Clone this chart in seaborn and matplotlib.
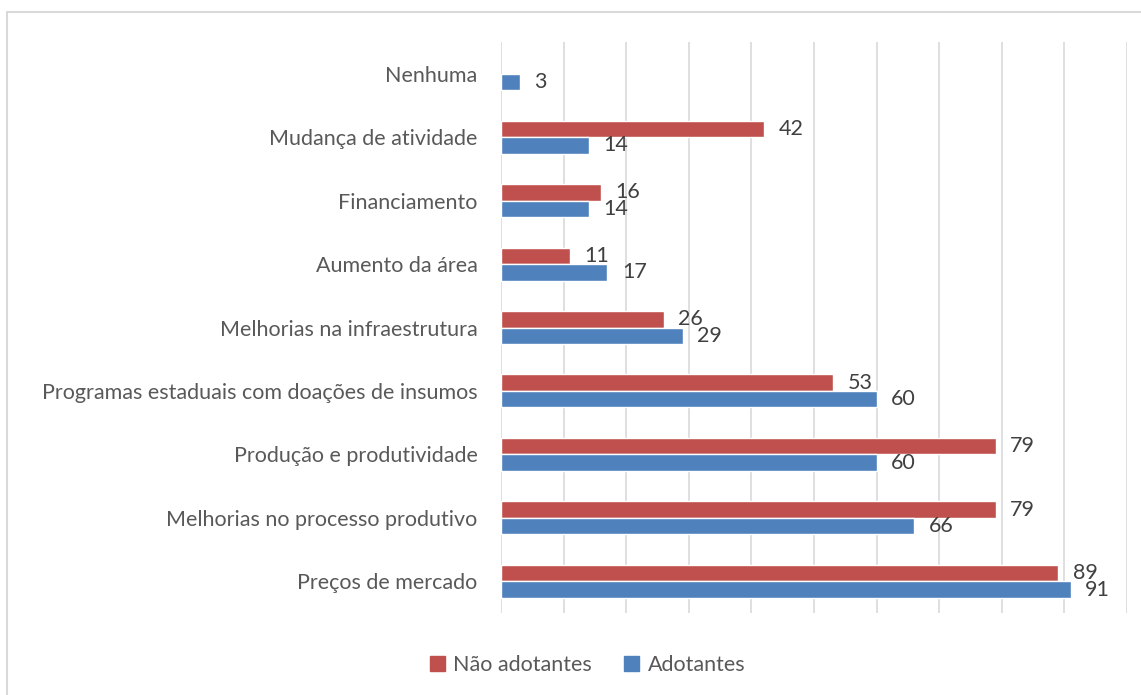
import numpy as np
import pandas as pd
import matplotlib
matplotlib.use('Agg')
import matplotlib.pyplot as plt
import matplotlib.patches as mpatches
import seaborn as sns

# ── Data ────────────────────────────────────────────────────
categories = ['Nenhuma', 'Mudança de atividade', 'Financiamento', 'Aumento da área',
              'Melhorias na infraestrutura', 'Programas estaduais com doações de insumos',
              'Produção e produtividade', 'Melhorias no processo produtivo',
              'Preços de mercado']
nao_adotantes = [np.nan, 42, 16, 11, 26, 53, 79, 79, 89]
adotantes     = [3, 14, 14, 17, 29, 60, 60, 66, 91]
series_names  = ['Não adotantes', 'Adotantes']

df = pd.DataFrame({
    'Categoria': categories * 2,
    'Grupo': [series_names[0]] * len(categories) + [series_names[1]] * len(categories),
    'Valor': nao_adotantes + adotantes,
})

RED   = '#C0504D'
BLUE  = '#4F81BD'
GRID  = '#D9D9D9'
TEXT  = '#595959'
LABEL = '#404040'
FS    = 15.5

sns.set_style('white')
plt.rcParams['font.family'] = ['Lato', 'DejaVu Sans']

W, H = 1141, 695
fig = plt.figure(figsize=(W / 100, H / 100), dpi=100, facecolor='white')
ax = fig.add_axes([501 / W, 1 - 613 / H, (1127 - 501) / W, (613 - 42) / H])

sns.barplot(data=df, y='Categoria', x='Valor', hue='Grupo', order=categories,
            hue_order=series_names, palette=[RED, BLUE], width=0.52,
            orient='h', ax=ax, saturation=1, legend=False)

for cont in ax.containers:
    labels = ['' if np.isnan(v) else f'{v:.0f}' for v in cont.datavalues]
    ax.bar_label(cont, labels=labels, padding=10.5, fontsize=FS, color=LABEL)

ax.set_xlim(0, 100)
ax.set_xticks(np.arange(0, 101, 10))
ax.set_xticklabels([])
ax.tick_params(axis='x', length=0)
ax.tick_params(axis='y', length=0, labelsize=FS, labelcolor=TEXT, pad=17)
ax.grid(True, axis='x', color=GRID, linewidth=1.2)
ax.set_axisbelow(True)
ax.set_xlabel('')
ax.set_ylabel('')
for s in ax.spines.values():
    s.set_visible(False)

handles = [mpatches.Patch(color=RED, label=series_names[0]),
           mpatches.Patch(color=BLUE, label=series_names[1])]
fig.legend(handles=handles, loc='center', bbox_to_anchor=(0.515, 1 - 665 / H),
           ncol=2, frameon=False, fontsize=FS, handlelength=0.7, handleheight=0.7,
           handletextpad=0.4, columnspacing=1.5, labelcolor=TEXT)

# outer chart border
fig.patches.append(mpatches.Rectangle((7 / W, -0.05), 1.2, 1 - 12 / H + 0.05,
                                      transform=fig.transFigure, fill=False,
                                      edgecolor=GRID, linewidth=1.5))

plt.savefig('out.png', dpi=100, facecolor='white')
